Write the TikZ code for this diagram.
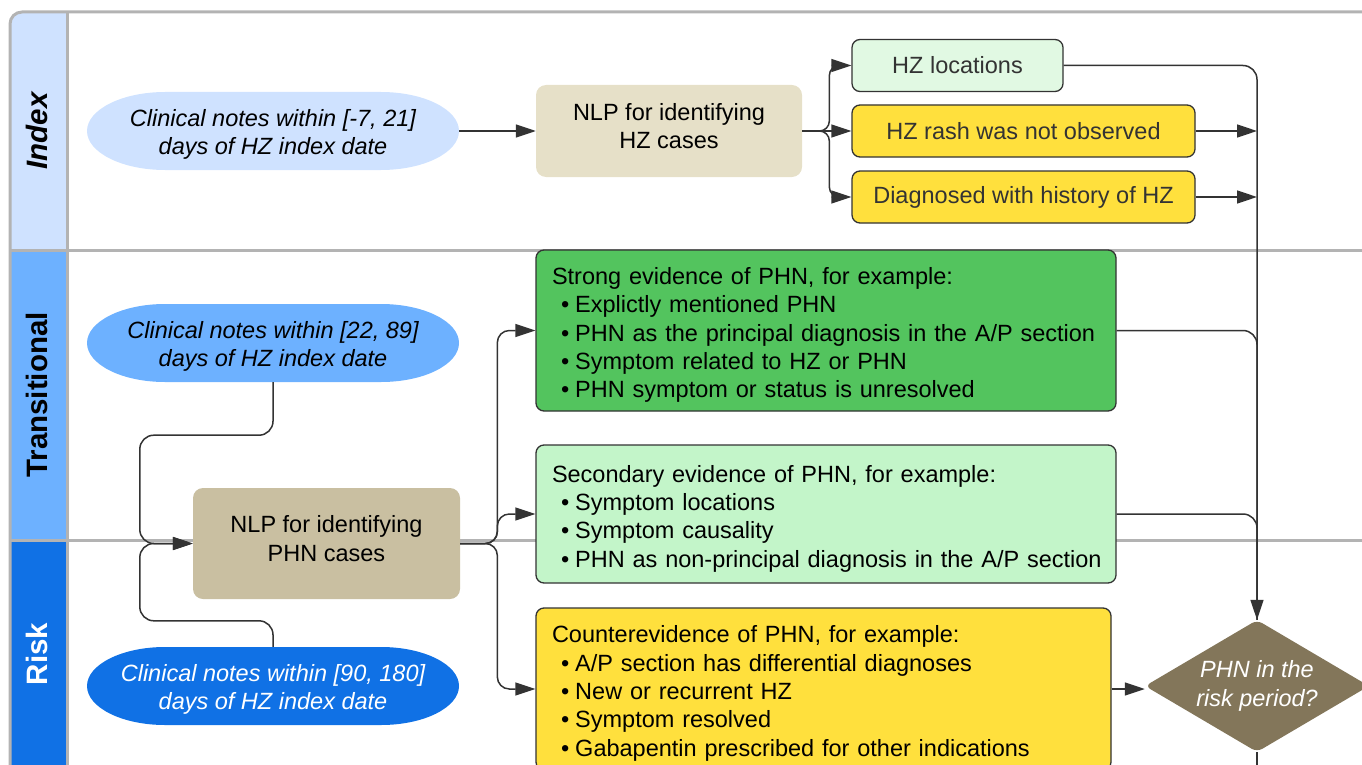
\documentclass[tikz,border=0pt]{standalone}
\usepackage{fontspec}
\setmainfont{Liberation Sans}
\usetikzlibrary{shapes.geometric,arrows.meta}

\definecolor{indexblue}{HTML}{CFE2FF}
\definecolor{transblue}{HTML}{6DB1FF}
\definecolor{riskblue}{HTML}{1071E5}
\definecolor{nlptan}{HTML}{E6E0C8}
\definecolor{nlpdark}{HTML}{C9BFA1}
\definecolor{mint}{HTML}{E1F9E3}
\definecolor{flagyellow}{HTML}{FFE03D}
\definecolor{stronggreen}{HTML}{53C45E}
\definecolor{palegreen}{HTML}{C3F5C9}
\definecolor{decbrown}{HTML}{83765A}
\definecolor{lanegray}{HTML}{B3B3B3}
\definecolor{ink}{HTML}{333333}

\newcommand\boxfont{\fontsize{23.5}{28.3}\selectfont}
\newcommand\evhead[1]{\rule{0pt}{26pt}#1}
\newcommand\evitem[1]{\mbox{\hspace*{9pt}\textbullet\hspace{6pt}#1}}

\tikzset{
  notes/.style={minimum width=372pt, minimum height=78pt, inner sep=0pt, text height=52pt,
    align=center, font=\boxfont\itshape,
    path picture={
      \fill[#1] ([shift={(-108pt,39pt)}]path picture bounding box.center)
        -- ([shift={(108pt,39pt)}]path picture bounding box.center)
        .. controls ([shift={(151pt,39pt)}]path picture bounding box.center)
        and ([shift={(186pt,21.5pt)}]path picture bounding box.center)
        .. ([shift={(186pt,0pt)}]path picture bounding box.center)
        .. controls ([shift={(186pt,-21.5pt)}]path picture bounding box.center)
        and ([shift={(151pt,-39pt)}]path picture bounding box.center)
        .. ([shift={(108pt,-39pt)}]path picture bounding box.center)
        -- ([shift={(-108pt,-39pt)}]path picture bounding box.center)
        .. controls ([shift={(-151pt,-39pt)}]path picture bounding box.center)
        and ([shift={(-186pt,-21.5pt)}]path picture bounding box.center)
        .. ([shift={(-186pt,0pt)}]path picture bounding box.center)
        .. controls ([shift={(-186pt,21.5pt)}]path picture bounding box.center)
        and ([shift={(-151pt,39pt)}]path picture bounding box.center)
        .. ([shift={(-108pt,39pt)}]path picture bounding box.center) -- cycle;
    }},
  nlp/.style={fill=#1, rounded corners=10pt, align=center, font=\boxfont, inner sep=0pt, text depth=10pt},
  flag/.style={fill=#1, draw=ink, line width=1.3pt, rounded corners=8pt, text=ink,
    font=\boxfont, minimum height=52pt, inner sep=0pt},
  evidence/.style={fill=#1, draw=ink, line width=1.3pt, rounded corners=8pt, text=black,
    font=\boxfont, align=left, text width=548pt, inner xsep=16pt, inner ysep=0pt},
  wire/.style={draw=ink, line width=1.5pt},
  flow/.style={wire, -{Triangle[length=20pt,width=13pt]}},
  laneline/.style={lanegray, line width=3pt},
  lanename/.style={rotate=90, font=\fontsize{29.5}{34}\selectfont\bfseries},
}

\begin{document}
\begin{tikzpicture}[x=1pt,y=-1pt]
  \useasboundingbox (0,0) rectangle (1362,765);
  \clip (0,0) rectangle (1362,765);

  % swimlanes
  \begin{scope}
    \clip[rounded corners=12pt] (10,12) rectangle (1400,800);
    \fill[indexblue] (10,12) rectangle (67,250);
    \fill[transblue] (10,250) rectangle (67,540);
    \fill[riskblue] (10,540) rectangle (67,800);
  \end{scope}
  \draw[laneline, rounded corners=12pt] (10,12) rectangle (1400,800);
  \draw[laneline] (67,12) -- (67,800);
  \draw[laneline] (10,250) -- (1400,250);
  \draw[laneline] (10,540) -- (1400,540);

  \node[lanename] (idx) at (37,131) {\itshape Index};
  \node[lanename] (trans) at (37,395) {Transitional};
  \node[lanename, text=white] (risk) at (37,654) {Risk};

  % index period
  \node[notes=indexblue] (notesA) at (273,131) {Clinical notes within [-7, 21]\\days of HZ index date};
  \node[nlp=nlptan, minimum width=266pt, minimum height=92pt] (nlpHZ) at (669,131) {NLP for identifying\\HZ cases};
  \node[flag=mint, minimum width=211pt] (hzloc) at (957.5,65.5) {HZ locations};
  \node[flag=flagyellow, minimum width=343pt] (rash) at (1023.5,131) {HZ rash was not observed};
  \node[flag=flagyellow, minimum width=343pt] (hist) at (1023.5,197) {Diagnosed with history of HZ};

  % transitional and risk periods
  \node[notes=transblue] (notesB) at (273,343) {Clinical notes within [22, 89]\\days of HZ index date};
  \node[nlp=nlpdark, minimum width=267pt, minimum height=111pt] (nlpPHN) at (326.5,543.5) {NLP for identifying\\PHN cases};
  \node[notes=riskblue, text=white] (notesC) at (273,686) {Clinical notes within [90, 180]\\days of HZ index date};

  \node[evidence=stronggreen, minimum height=161pt] (strong) at (826,330.5)
    {\evhead{Strong evidence of PHN, for example:}\\
     \evitem{Explictly mentioned PHN}\\
     \evitem{PHN as the principal diagnosis in the A/P section}\\
     \evitem{Symptom related to HZ or PHN}\\
     \evitem{PHN symptom or status is unresolved}};
  \node[evidence=palegreen, minimum height=138pt] (second) at (826,514)
    {\evhead{Secondary evidence of PHN, for example:}\\
     \evitem{Symptom locations}\\
     \evitem{Symptom causality}\\
     \evitem{PHN as non-principal diagnosis in the A/P section}};
  \node[evidence=flagyellow, text width=543pt, minimum height=162pt] (counter) at (823.5,689)
    {\evhead{Counterevidence of PHN, for example:}\\
     \evitem{A/P section has differential diagnoses}\\
     \evitem{New or recurrent HZ}\\
     \evitem{Symptom resolved}\\
     \evitem{Gabapentin prescribed for other indications}};

  \node[diamond, aspect=1.7, fill=decbrown, rounded corners=6pt, minimum width=224pt, minimum height=132pt,
    inner sep=0pt, text=white, font=\boxfont\itshape, align=center] (dec) at (1257,686) {PHN in the\\risk period?};

  % connectors
  \draw[flow] (notesA) -- (nlpHZ);
  \draw[flow, rounded corners=10pt] (nlpHZ.east) -| ([xshift=-22pt]hzloc.west) -- (hzloc.west);
  \draw[flow] (nlpHZ.east) -- (rash.west);
  \draw[flow, rounded corners=10pt] (nlpHZ.east) -| ([xshift=-22pt]hist.west) -- (hist.west);
  \draw[flow, rounded corners=14pt] (hzloc.east) -| (dec.north);
  \draw[flow] (rash.east) -- (rash.east -| dec.north);
  \draw[flow] (hist.east) -- (hist.east -| dec.north);

  \draw[flow, rounded corners=14pt] (notesB.south) -- ++(0,53) -| ([xshift=-53pt]nlpPHN.west) -- (nlpPHN.west);
  \draw[flow, rounded corners=14pt] (notesC.north) -- ++(0,-26) -| ([xshift=-53pt]nlpPHN.west) -- (nlpPHN.west);

  \draw[flow, rounded corners=12pt] (nlpPHN.east) -| ([xshift=-38pt]strong.west) -- (strong.west);
  \draw[flow, rounded corners=12pt] (nlpPHN.east) -| ([xshift=-38pt]second.west) -- (second.west);
  \draw[flow, rounded corners=12pt] (nlpPHN.east) -| ([xshift=-38pt]counter.west) -- (counter.west);

  \draw[wire, rounded corners=14pt] (strong.east) -| (dec.north);
  \draw[wire, rounded corners=14pt] (second.east) -| (dec.north);
  \draw[flow] (counter.east) -- (counter.east -| dec.west);
  \draw[wire] (dec.south) -- ++(0,30);
\end{tikzpicture}
\end{document}
